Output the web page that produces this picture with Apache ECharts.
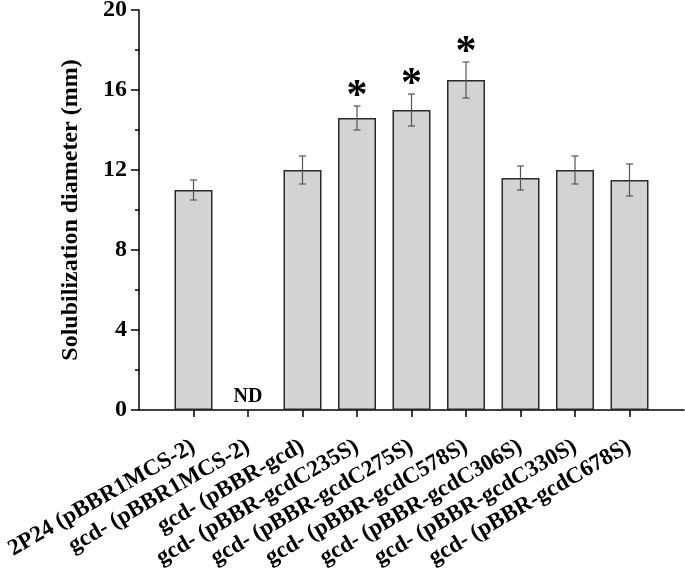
<!DOCTYPE html>
<html>
<head>
<meta charset="utf-8">
<script src="https://cdn.jsdelivr.net/npm/echarts@6/dist/echarts.min.js"></script>
<style>html,body{margin:0;padding:0;background:#fff}#c{width:685px;height:573px}</style>
</head>
<body>
<div id="c"></div>
<script>
const categories = ['2P24 (pBBR1MCS-2)', 'gcd- (pBBR1MCS-2)', 'gcd- (pBBR-gcd)', 'gcd- (pBBR-gcdC235S)', 'gcd- (pBBR-gcdC275S)', 'gcd- (pBBR-gcdC578S)', 'gcd- (pBBR-gcdC306S)', 'gcd- (pBBR-gcdC330S)', 'gcd- (pBBR-gcdC678S)'];
const means = [11.0, null, 12.0, 14.6, 15.0, 16.5, 11.6, 12.0, 11.5];
const errors = [0.5, null, 0.7, 0.6, 0.8, 0.9, 0.6, 0.7, 0.8];
const significant = [false, false, false, true, true, true, false, false, false];
const notDetected = [false, true, false, false, false, false, false, false, false];
const yTicks = [0, 4, 8, 12, 16, 20];

const FONT = '"Liberation Serif", "Times New Roman", serif';
// pad axis with empty slots on both ends so ticks sit at positions 1..9 of 0..10
const axisCats = [''].concat(categories, ['']);
const barData = ['-'].concat(means.map(v => v == null ? '-' : v), ['-']);
const errData = [];
const starData = [];
const ndData = [];
categories.forEach((c, i) => {
  if (means[i] != null) errData.push([i + 1, means[i] - errors[i], means[i] + errors[i]]);
  if (significant[i]) starData.push([i + 1, means[i] + errors[i]]);
  if (notDetected[i]) ndData.push([i + 1, 0]);
});

const chart = echarts.init(document.getElementById('c'), null, {renderer: 'canvas'});
chart.setOption({
  animation: false,
  grid: {left: 139, right: 1, top: 10, bottom: 163, containLabel: false, outerBoundsMode: 'none'},
  xAxis: {
    type: 'category',
    data: axisCats,
    boundaryGap: false,
    axisLine: {lineStyle: {color: '#000', width: 1.5}},
    axisTick: {length: 7, lineStyle: {color: '#000', width: 1.5}, interval: (i) => i > 0 && i < axisCats.length - 1},
    axisLabel: {interval: 0, rotate: 30, margin: 35, color: '#000', fontFamily: FONT, fontWeight: 'bold', fontSize: 23},
    splitLine: {show: false}
  },
  yAxis: {
    type: 'value',
    min: yTicks[0], max: yTicks[yTicks.length - 1], interval: yTicks[1] - yTicks[0],
    name: 'Solubilization diameter (mm)',
    nameLocation: 'middle', nameGap: 56,
    nameTextStyle: {color: '#000', fontFamily: FONT, fontWeight: 'bold', fontSize: 24},
    axisLine: {show: true, lineStyle: {color: '#000', width: 1.5}},
    axisTick: {show: true, length: 8, lineStyle: {color: '#000', width: 1.5}},
    minorTick: {show: true, splitNumber: 2, length: 4, lineStyle: {color: '#000', width: 1.5}},
    axisLabel: {margin: 12, color: '#000', fontFamily: FONT, fontWeight: 'bold', fontSize: 24},
    splitLine: {show: false}
  },
  series: [
    {
      type: 'bar',
      data: barData,
      barWidth: 38,
      itemStyle: {color: '#d3d3d3', borderColor: '#2a2a2a', borderWidth: 1.5},
      z: 2
    },
    {
      type: 'custom',
      data: errData,
      z: 3,
      renderItem: function (params, api) {
        const x = api.value(0);
        const lo = api.coord([x, api.value(1)]);
        const hi = api.coord([x, api.value(2)]);
        const hw = 3.5;
        const st = {stroke: '#555', lineWidth: 1.2};
        return {
          type: 'group',
          children: [
            {type: 'line', shape: {x1: lo[0], y1: lo[1], x2: hi[0], y2: hi[1]}, style: st},
            {type: 'line', shape: {x1: lo[0] - hw, y1: lo[1], x2: lo[0] + hw, y2: lo[1]}, style: st},
            {type: 'line', shape: {x1: hi[0] - hw, y1: hi[1], x2: hi[0] + hw, y2: hi[1]}, style: st}
          ]
        };
      }
    },
    {
      type: 'scatter',
      data: starData,
      symbolSize: 0,
      z: 4,
      itemStyle: {opacity: 1},
      label: {show: true, position: 'inside', offset: [0, -9], formatter: '*', color: '#000', fontFamily: FONT, fontWeight: 'bold', fontSize: 42}
    },
    {
      type: 'scatter',
      data: ndData,
      symbolSize: 0,
      z: 4,
      itemStyle: {opacity: 1},
      label: {show: true, position: 'top', distance: 3, formatter: 'ND', color: '#000', fontFamily: FONT, fontWeight: 'bold', fontSize: 20}
    }
  ]
});
</script>
</body>
</html>
